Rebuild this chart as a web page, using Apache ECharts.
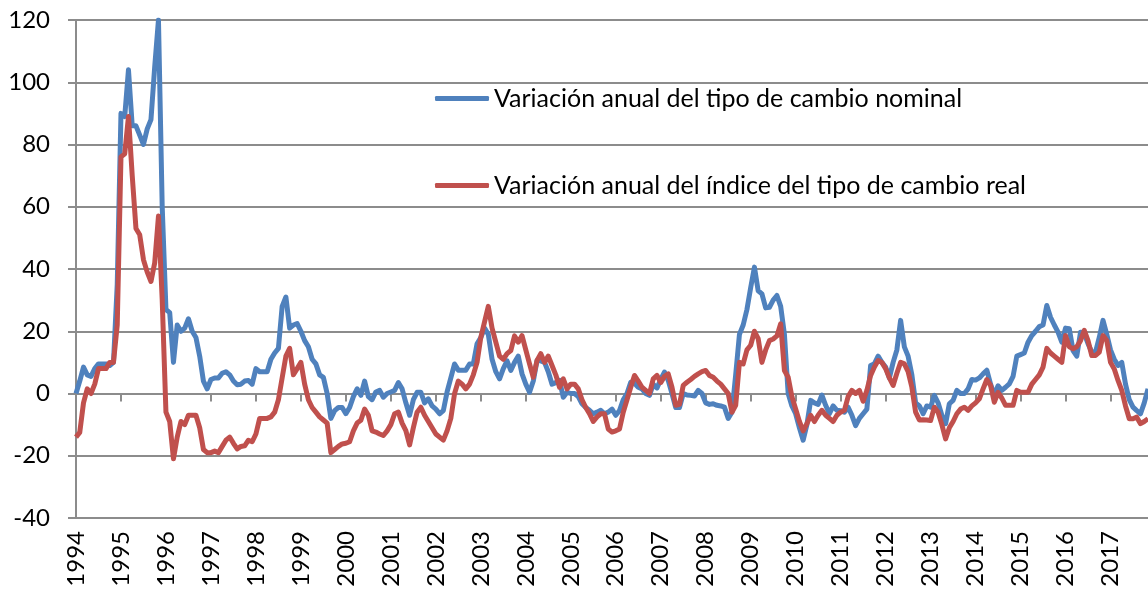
<!DOCTYPE html>
<html>
<head>
<meta charset="utf-8">
<script src="https://cdn.jsdelivr.net/npm/echarts@6/dist/echarts.min.js"></script>
<style>
  html, body { margin: 0; padding: 0; background: #fff; }
  #chart { width: 1148px; height: 591px; }
</style>
</head>
<body>
<div id="chart"></div>
<script>
// años del eje x (datos mensuales desde ene-1994 hasta nov-2017)
var years = ['1994','1995','1996','1997','1998','1999','2000','2001','2002','2003','2004','2005',
             '2006','2007','2008','2009','2010','2011','2012','2013','2014','2015','2016','2017'];

var nombreNominal = 'Variación anual del tipo de cambio nominal';
var nombreReal = 'Variación anual del índice del tipo de cambio real';

// variación anual tipo de cambio nominal (%)
var nominal = [
  0, 4, 8.5, 6, 5.5, 8, 9.5, 9.5, 9.5, 9, 10, 35,
  90, 89, 104, 86, 86, 83, 80, 85, 88, 105, 120, 60,
  27, 26, 10, 22, 20, 21, 24, 20, 18, 12, 4, 1.5,
  4.5, 5, 5, 6.5, 7, 6, 4, 2.8, 3, 4, 4.2, 3,
  8, 7, 7, 7, 11, 13, 14.5, 28, 31, 21, 22, 22.5,
  20, 17, 15, 11, 9.5, 6, 5.2, 0, -8, -5.5, -4.5, -4.5,
  -6.5, -4.5, -1, 1.5, -0.6, 4, -1, -2, 0.5, 1, -1.2, 0,
  0.5, 1, 3.5, 1.5, -3, -7, -2, 0.4, 0.4, -3, -1.7, -4,
  -5, -6.5, -5.5, 0.5, 5, 9.5, 7.5, 7.5, 7.5, 9.5, 9.5, 16,
  18, 21, 19, 11, 7, 4.7, 8, 10.5, 7.4, 10, 12, 6.3,
  3, 0.4, 4, 10.6, 10.5, 10, 7, 3, 3.5, 4.2, -1.2, 0.4,
  0, 0, -1, -3.3, -4.5, -5.4, -6.5, -6, -5.4, -6.5, -6, -5,
  -7, -5.5, -2, 0, 3.6, 3.3, 2, 1.5, 0, -0.6, 3, 1.8,
  4.5, 6.9, 4.2, 0, -4.5, -4.5, 0, -0.5, -0.6, -0.8, 1, 0,
  -3, -3.5, -3.3, -3.8, -4, -4.4, -8, -6, 6, 19, 22, 27,
  34, 40.6, 33, 32, 27.5, 27.7, 30, 31.5, 28, 19, 0, -4,
  -6.5, -11, -15, -10, -2.2, -3, -3.5, -0.5, -3.8, -6.5, -4, -5.4,
  -5.5, -6, -4.4, -7, -10.3, -8, -6.5, -5, 9, 9.5, 12, 10,
  8.5, 5, 10, 14, 23.5, 15, 12, 6, -3, -4, -6.5, -4,
  -4.4, -0.6, -3, -7, -9.7, -3.3, -2.2, 1, 0, 0, 1.5, 4.5,
  4.3, 5, 6.3, 7.5, 3, -0.6, 2.5, 1, 2, 3.1, 5.5, 12,
  12.5, 13, 16.5, 18.6, 20, 21.5, 22, 28.3, 24.5, 22, 19.7, 16.5,
  21, 20.8, 13.8, 12, 19.7, 19.2, 16, 13.3, 13.3, 18, 23.5, 19,
  14, 11, 9, 10, 3, -2, -4.4, -5.5, -6.5, -3, 1.5
];

// variación anual índice tipo de cambio real (%)
var real = [
  -14, -12.5, -3, 1.5, 0, 3, 8, 8, 8, 10, 10, 22,
  76, 77, 89, 70, 53, 51, 43, 39, 36, 42, 57, 30,
  -6, -9, -21, -14, -9, -10, -7, -7, -7, -11, -18, -19,
  -19, -18.5, -19, -17, -15, -14, -16, -17.8, -17, -16.8, -15, -15.5,
  -13, -8, -8, -8, -7.5, -6, -2, 5, 12, 14.5, 6, 8,
  10, 3, -2, -4.5, -6, -7.5, -8.5, -9.5, -19, -18, -17, -16.2,
  -16, -15.5, -12, -9.5, -8.6, -5, -7, -12, -12.4, -13, -13.5, -12,
  -10, -6.5, -6, -9.5, -11.9, -16.5, -11, -6, -4.4, -7, -9, -11,
  -13, -14, -15, -12, -8, 0, 4, 3, 1.5, 3, 6, 10,
  18, 23, 28, 21, 16.5, 12, 11, 12.8, 13.8, 18.5, 16.5, 18.6,
  14, 9.5, 5.2, 10.6, 12.8, 10, 12, 9, 6, 2, 4.7, 1.5,
  3, 3, 1.5, -2, -4.5, -6.5, -9, -7.5, -6.5, -6.5, -11.4, -12.4,
  -12, -11.4, -6, -2, 2, 5.8, 4, 2, 1, 0, 4.7, 5.8,
  3.5, 5.5, 6.3, 2, -3.8, -3.5, 2.6, 3.6, 4.5, 5.5, 6.3, 7,
  7.4, 5.8, 5.2, 4, 3, 1.5, 0, -6, -3.8, 10, 9.5, 14,
  15.5, 20, 17.6, 10, 14, 17, 17.5, 18.5, 22.4, 7.4, 5.2, -1,
  -5, -9, -12, -9.7, -7, -9, -7, -5.4, -7, -8, -9, -7,
  -6, -5.4, -1, 1, 0, 1, -2.5, 1, 5.8, 8.5, 10.6, 10,
  8, 5, 2.6, 6.5, 10, 9.5, 7, 2, -6, -8.5, -8.4, -8.5,
  -8.7, -4.4, -6, -10, -14.6, -11, -9, -6.5, -5, -4.4, -5.4, -4,
  -3, -1.7, 1.5, 4.5, 2.6, -2.8, 0.4, -1.5, -3.8, -3.8, -3.8, 1,
  0.4, 0.4, 0.4, 3, 4.5, 6, 8.5, 14.5, 13, 12, 11, 10,
  18.6, 15, 14.4, 15, 17, 20.3, 17, 12.2, 12.2, 13.3, 18.6, 17,
  10, 7.9, 4.2, 1, -4, -8.1, -8.1, -7.6, -9.7, -9, -8.1
];

// categorias mensuales, la etiqueta es el año en enero
var meses = [];
for (var i = 0; i < nominal.length; i++) {
  meses.push(years[Math.floor(i / 12)] + '-' + (i % 12 + 1));
}

var fuente = 'Lato, "Liberation Sans", sans-serif';
var gris = '#8c8c8c';

var chart = echarts.init(document.getElementById('chart'));

chart.setOption({
  animation: false,
  backgroundColor: '#ffffff',
  textStyle: { fontFamily: fuente },
  grid: { left: 76, right: 0, top: 20, bottom: 73 },
  legend: [{
    data: [nombreNominal],
    left: 435, top: 86,
    icon: 'roundRect', itemWidth: 54, itemHeight: 5, padding: 0,
    textStyle: { fontSize: 25, color: '#000', fontFamily: fuente }
  }, {
    data: [nombreReal],
    left: 435, top: 173,
    icon: 'roundRect', itemWidth: 54, itemHeight: 5, padding: 0,
    textStyle: { fontSize: 25, color: '#000', fontFamily: fuente }
  }],
  xAxis: {
    type: 'category',
    data: meses,
    boundaryGap: false,
    axisLine: { lineStyle: { color: gris, width: 2 } },
    axisTick: {
      length: 8,
      lineStyle: { color: gris, width: 2 },
      interval: function (idx) { return idx % 12 === 0; }
    },
    axisLabel: {
      rotate: 90,
      margin: 13,
      fontSize: 24,
      color: '#000',
      interval: function (idx) { return idx % 12 === 0; },
      formatter: function (v) { return v.split('-')[0]; }
    },
    splitLine: { show: false }
  },
  yAxis: {
    type: 'value',
    min: -40, max: 120, interval: 20,
    axisLine: { show: true, lineStyle: { color: gris, width: 2 } },
    axisTick: { show: true, length: 8, lineStyle: { color: gris, width: 2 } },
    axisLabel: { margin: 26, fontSize: 24, color: '#000' },
    splitLine: { lineStyle: { color: gris, width: 2 } }
  },
  series: [{
    name: nombreNominal,
    type: 'line',
    data: nominal,
    symbol: 'none',
    color: '#4F81BD',
    lineStyle: { width: 5, color: '#4F81BD', join: 'round' }
  }, {
    name: nombreReal,
    type: 'line',
    data: real,
    symbol: 'none',
    color: '#C0504D',
    lineStyle: { width: 5, color: '#C0504D', join: 'round' }
  }]
});
</script>
</body>
</html>
